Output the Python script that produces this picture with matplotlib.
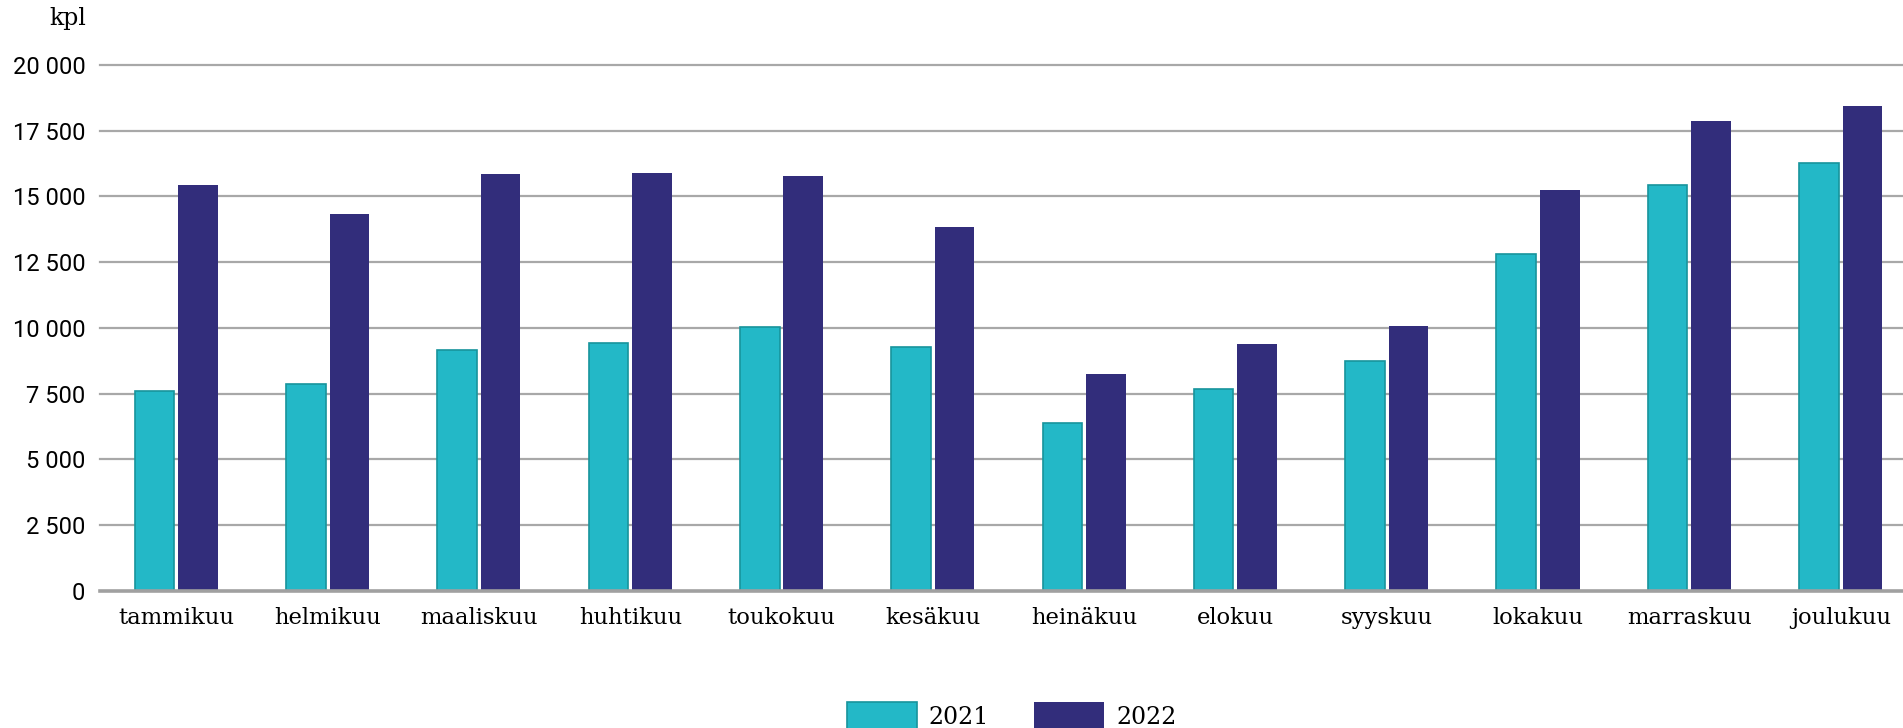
import numpy as np
import matplotlib.pyplot as plt

months = ["tammikuu", "helmikuu", "maaliskuu", "huhtikuu", "toukokuu", "kesäkuu",
          "heinäkuu", "elokuu", "syyskuu", "lokakuu", "marraskuu", "joulukuu"]
values_2021 = [7600, 7850, 9150, 9420, 10020, 9290, 6380, 7670, 8730, 12800, 15430, 16260]
values_2022 = [15430, 14330, 15850, 15890, 15760, 13820, 8230, 9380, 10080, 15250, 17880, 18440]
yticks = [0, 2500, 5000, 7500, 10000, 12500, 15000, 17500, 20000]

TEAL = "#23b8c7"
TEAL_EDGE = "#17949c"
NAVY = "#322d7b"
GRID = "#a8a8a8"
SERIF = ["DejaVu Serif"]
SANS = ["Roboto", "DejaVu Sans"]

fig = plt.figure(figsize=(19.03, 7.28), dpi=100)
ax = fig.add_axes([0.05255, 0.1886, 0.94745, 0.7221])

x = np.arange(len(months))
w = 0.262
ax.bar(x - 0.146, values_2021, w, color=TEAL, edgecolor=TEAL_EDGE, linewidth=1.2,
       label="2021", zorder=3)
ax.bar(x + 0.142, values_2022, w, color=NAVY, linewidth=0, label="2022", zorder=3)

ax.set_xlim(-0.506, 11.41)
ax.set_ylim(0, 20000)
ax.set_yticks(yticks)
ax.set_yticklabels([f"{v:,}".replace(",", " ") for v in yticks], family=SANS, fontsize=17)
ax.set_xticks(x)
ax.set_xticklabels(months, family=SERIF, fontsize=16.3)
ax.tick_params(axis="both", length=0)
ax.tick_params(axis="y", pad=10.5)
ax.tick_params(axis="x", pad=12)

for v in yticks[1:]:
    ax.axhline(v, color=GRID, linewidth=1.6, zorder=1, clip_on=False)
ax.axhline(0, color="#a0a0a0", linewidth=2.6, zorder=4, clip_on=False)
for s in ax.spines.values():
    s.set_visible(False)

fig.text(86 / 1903, 1 - 7 / 728, "kpl", ha="right", va="top", family=SERIF, fontsize=17)

leg = fig.legend(loc="upper center", bbox_to_anchor=(0.5316, 1 - 702 / 728), ncol=2,
                 frameon=False, prop={"family": SERIF, "size": 17},
                 handlelength=2.97, handleheight=1.45, handletextpad=0.5,
                 columnspacing=1.9, borderpad=0, borderaxespad=0)

fig.savefig("out.png", dpi=100)
